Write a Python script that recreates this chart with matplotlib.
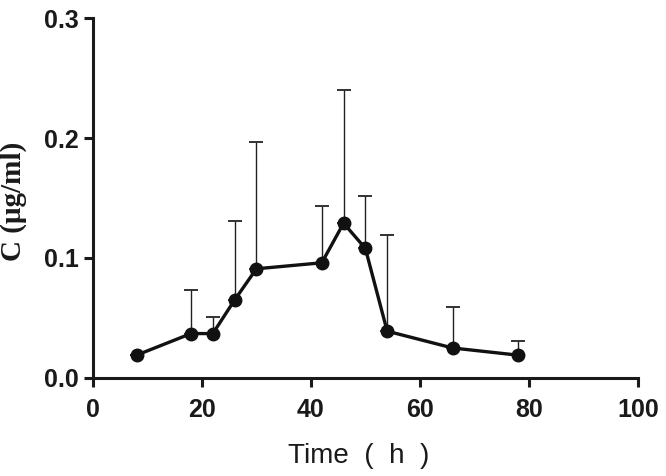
import matplotlib
matplotlib.use("Agg")
from matplotlib import pyplot as plt

# time points (h), mean concentration and upper SD
time_h = [8, 18, 22, 26, 30, 42, 46, 50, 54, 66, 78]
conc = [0.019, 0.037, 0.037, 0.065, 0.091, 0.096, 0.129, 0.108, 0.039, 0.025, 0.019]
err_top = [0.019, 0.073, 0.051, 0.131, 0.197, 0.143, 0.240, 0.152, 0.119, 0.059, 0.031]

xticks = [0, 20, 40, 60, 80, 100]
yticks = [0.0, 0.1, 0.2, 0.3]

plt.rcParams['font.family'] = ['Liberation Sans', 'DejaVu Sans']

fig = plt.figure(figsize=(6.66, 4.76), dpi=100)
ax = fig.add_axes([0.1396, 0.206, 0.818, 0.756])

upper = [t - c for t, c in zip(err_top, conc)]
lower = [0] * len(conc)
ax.errorbar(time_h, conc, yerr=[lower, upper], fmt='none', ecolor='#222222',
            elinewidth=1.0, capsize=5, capthick=1.3, zorder=2)
ax.plot(time_h, conc, color='#111111', lw=2.4, marker='o', ms=9,
        markerfacecolor='#111111', markeredgecolor='#111111', zorder=3)

ax.set_xlim(0, 100)
ax.set_ylim(0, 0.3)
ax.set_xticks(xticks)
ax.set_yticks(yticks)
ax.set_yticklabels([f'{v:.1f}' for v in yticks])

for s in ['top', 'right']:
    ax.spines[s].set_visible(False)
for s in ['left', 'bottom']:
    ax.spines[s].set_linewidth(2.2)
    ax.spines[s].set_color('#1a1a1a')

ax.tick_params(axis='both', direction='out', length=6.5, width=2.2, color='#1a1a1a',
               labelsize=18, labelcolor='#1a1a1a')
ax.tick_params(axis='x', pad=8)
ax.tick_params(axis='y', pad=4)
for lab in ax.get_xticklabels() + ax.get_yticklabels():
    lab.set_fontweight('bold')

ax.set_xlabel('Time  (  h  )', fontsize=20, color='#1a1a1a')
ax.xaxis.set_label_coords(0.488, -0.18)
ax.set_ylabel('C (μg/ml)', fontsize=21, fontweight='bold', color='#1a1a1a',
              family=['Liberation Serif', 'DejaVu Serif'])
ax.yaxis.set_label_coords(-0.122, 0.49)

fig.savefig('out.png', dpi=100)
